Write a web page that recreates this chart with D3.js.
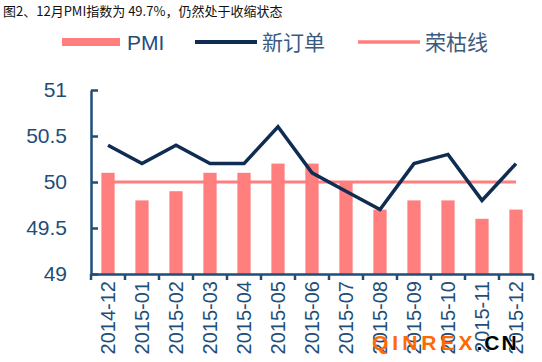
<!DOCTYPE html>
<html>
<head>
<meta charset="utf-8">
<script src="https://cdn.jsdelivr.net/npm/d3@7"></script>
<style>
  body { margin: 0; background: #fff; }
  svg { display: block; }
</style>
</head>
<body>
<div id="chart"></div>
<script>
// chart data
const months = ['2014-12', '2015-01', '2015-02', '2015-03', '2015-04', '2015-05', '2015-06',
    '2015-07', '2015-08', '2015-09', '2015-10', '2015-11', '2015-12'];
const pmi = [50.1, 49.8, 49.9, 50.1, 50.1, 50.2, 50.2, 50.0, 49.7, 49.8, 49.8, 49.6, 49.7];
const newOrders = [50.4, 50.2, 50.4, 50.2, 50.2, 50.6, 50.1, 49.9, 49.7, 50.2, 50.3, 49.8, 50.2];
const boomLine = 50;
const yTicks = [49, 49.5, 50, 50.5, 51];

const width = 542, height = 362;
const barColor = '#ff7f7f';
const lineColor = '#0f2d52';
const axisColor = '#1f4e79';

const svg = d3.select('#chart').append('svg')
    .attr('width', width)
    .attr('height', height);

svg.append('text')
    .attr('x', 3).attr('y', 16)
    .attr('font-family', 'Noto Sans CJK SC')
    .attr('font-size', 13)
    .attr('fill', '#111')
    .text('图2、12月PMI指数为 49.7%，仍然处于收缩状态');

const x = d3.scaleBand().domain(months).range([91, 533]);
const y = d3.scaleLinear().domain([49, 51]).range([274, 90]);
const barW = x.bandwidth() * 0.39;
const cx = d => x(d) + x.bandwidth() / 2;

// bars
svg.append('g')
    .selectAll('rect')
    .data(months)
    .enter().append('rect')
    .attr('x', (d, i) => cx(d) - barW / 2)
    .attr('y', (d, i) => y(pmi[i]))
    .attr('width', barW)
    .attr('height', (d, i) => y(49) - y(pmi[i]))
    .attr('fill', barColor);

// 荣枯线
svg.append('line')
    .attr('x1', cx(months[0])).attr('x2', cx(months[months.length - 1]))
    .attr('y1', y(boomLine)).attr('y2', y(boomLine))
    .attr('stroke', barColor)
    .attr('stroke-width', 3);

// 新订单
svg.append('path')
    .datum(newOrders)
    .attr('fill', 'none')
    .attr('stroke', lineColor)
    .attr('stroke-width', 3.5)
    .attr('stroke-linejoin', 'miter')
    .attr('d', d3.line().x((d, i) => cx(months[i])).y(d => y(d)));

// y axis
const yAxis = svg.append('g')
    .attr('transform', 'translate(91,0)')
    .call(d3.axisLeft(y).tickValues(yTicks).tickSize(-7).tickSizeOuter(0).tickPadding(24)
        .tickFormat(d3.format('')));
yAxis.selectAll('path, line').attr('stroke', axisColor).attr('stroke-width', 2.5);
yAxis.selectAll('text')
    .attr('fill', axisColor)
    .attr('font-family', 'Arial, Liberation Sans, sans-serif')
    .attr('font-size', 21);

// x axis
const xAxis = svg.append('g')
    .attr('transform', 'translate(0,274)')
    .call(d3.axisBottom(x).tickSize(0).tickSizeOuter(0).tickFormat(''));
xAxis.select('path').attr('stroke', axisColor).attr('stroke-width', 2.5);

svg.append('g')
    .selectAll('line')
    .data(months.concat(['end']))
    .enter().append('line')
    .attr('x1', (d, i) => 91 + i * x.step()).attr('x2', (d, i) => 91 + i * x.step())
    .attr('y1', 274).attr('y2', 280)
    .attr('stroke', axisColor)
    .attr('stroke-width', 2.5);

svg.append('g')
    .selectAll('text')
    .data(months)
    .enter().append('text')
    .attr('transform', d => `translate(${cx(d)},281) rotate(-90)`)
    .attr('text-anchor', 'end')
    .attr('dy', '0.35em')
    .attr('fill', axisColor)
    .attr('font-family', 'Arial, Liberation Sans, sans-serif')
    .attr('font-size', 20)
    .text(d => d);

// legend
const legend = svg.append('g')
    .attr('font-family', 'Arial, Liberation Sans, sans-serif')
    .attr('font-size', 21)
    .attr('fill', axisColor);
legend.append('rect')
    .attr('x', 62).attr('y', 38).attr('width', 58).attr('height', 8)
    .attr('fill', barColor);
legend.append('text').attr('x', 127).attr('y', 50).text('PMI');
legend.append('line')
    .attr('x1', 195).attr('x2', 257).attr('y1', 42).attr('y2', 42)
    .attr('stroke', lineColor).attr('stroke-width', 4);
legend.append('text').attr('x', 262).attr('y', 50)
    .attr('font-family', 'Noto Sans CJK SC').attr('fill', '#3b5a7d').text('新订单');
legend.append('line')
    .attr('x1', 358).attr('x2', 420).attr('y1', 42).attr('y2', 42)
    .attr('stroke', barColor).attr('stroke-width', 3.5);
legend.append('text').attr('x', 425).attr('y', 50)
    .attr('font-family', 'Noto Sans CJK SC').attr('fill', '#3b5a7d').text('荣枯线');

// watermark
const mark = svg.append('text')
    .attr('x', 372).attr('y', 350)
    .attr('font-family', 'Arial, Liberation Sans, sans-serif')
    .attr('font-weight', 'bold')
    .attr('font-size', 21)
    .attr('letter-spacing', 4);
mark.append('tspan').attr('fill', '#ff6a00').text('QINREX');
mark.append('tspan').attr('fill', '#000').attr('letter-spacing', 2)
    .attr('stroke', '#fff').attr('stroke-width', 0.8).attr('paint-order', 'stroke').text('.CN');
</script>
</body>
</html>
